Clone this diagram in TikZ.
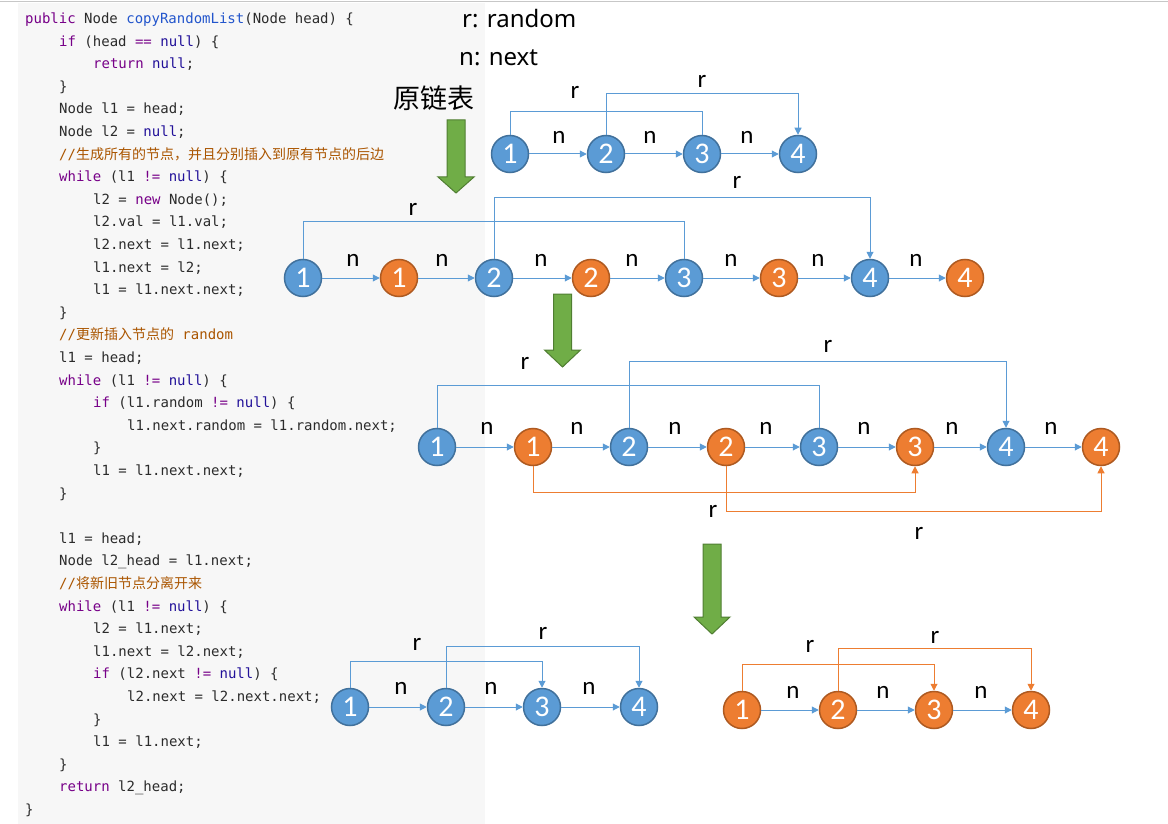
\documentclass[tikz,border=0pt]{standalone}
\usepackage{fontspec}
\usepackage{tikz}
\usetikzlibrary{arrows.meta}
\setmonofont{DejaVu Sans Mono}
\newfontfamily\cjk{Noto Sans CJK SC}
\newfontfamily\lbl{Carlito}
\newfontfamily\legendfont{Noto Sans}

\definecolor{codebg}{HTML}{F7F7F7}
\definecolor{kwcol}{HTML}{770088}
\definecolor{atomcol}{HTML}{221199}
\definecolor{defcol}{HTML}{2255CC}
\definecolor{cmcol}{HTML}{AA5500}
\definecolor{txtcol}{HTML}{2B2B2B}
\definecolor{nodeblue}{HTML}{5B9BD5}
\definecolor{nodeblueb}{HTML}{41719C}
\definecolor{nodeorange}{HTML}{ED7D31}
\definecolor{nodeorangeb}{HTML}{AE5A21}
\definecolor{arrowgreen}{HTML}{70AD47}
\definecolor{arrowgreenb}{HTML}{507E32}

\newcommand{\kw}[1]{\textcolor{kwcol}{#1}}
\newcommand{\nul}{\textcolor{atomcol}{null}}
\newcommand{\cmt}[1]{\textcolor{cmcol}{#1}}
% one line of the listing: number, indent level, text
\newcommand{\codeline}[3]{\node[code] (code#1) at ({25+34*#2},{23.5+22.6*#1}) {#3};}
% fat green arrow: x, top, head base, tip
\newcommand{\greenarrow}[4]{\filldraw[bigarrow] ({#1-9},#2) -- ({#1+9},#2) -- ({#1+9},#3) -- ({#1+18},#3) -- (#1,#4) -- ({#1-18},#3) -- ({#1-9},#3) -- cycle;}

\tikzset{
  code/.style={anchor=base west, inner sep=0pt, text=txtcol, font=\ttfamily\fontsize{14}{16}\selectfont},
  bnode/.style={circle, fill=nodeblue, draw=nodeblueb, line width=1.5pt, minimum size=37pt, inner sep=0pt, text=white, font=\lbl\fontsize{30}{30}\selectfont},
  onode/.style={bnode, fill=nodeorange, draw=nodeorangeb},
  nxt/.style={-{Triangle[length=7pt,width=7pt]}, draw=nodeblue, line width=1pt},
  rnd/.style={draw=nodeblue, line width=1pt},
  ornd/.style={draw=nodeorange, line width=1pt, -{Triangle[length=7pt,width=7pt]}},
  lab/.style={inner sep=0pt, font=\lbl\fontsize{25}{25}\selectfont},
  legend/.style={inner sep=0pt, anchor=base west, font=\legendfont\fontsize{24}{24}\selectfont},
  bigarrow/.style={fill=arrowgreen, draw=arrowgreenb, line width=1pt},
  topline/.style={draw=black!22, line width=1.2pt}
}

\begin{document}
\begin{tikzpicture}[x=1pt,y=-1pt]
\useasboundingbox (0,0) rectangle (1168,824);
\fill[codebg] (18,3) rectangle (485,824);
\draw[topline] (0,1.5) -- (1168,1.5);

% listing
\codeline{0}{0}{\kw{public} Node \textcolor{defcol}{copyRandomList}(Node head) \{}
\codeline{1}{1}{\kw{if} (head \kw{==} \nul) \{}
\codeline{2}{2}{\kw{return} \nul;}
\codeline{3}{1}{\}}
\codeline{4}{1}{Node l1 = head;}
\codeline{5}{1}{Node l2 = \nul;}
\codeline{6}{1}{\cmt{//{\cjk 生成所有的节点，并且分别插入到原有节点的后边}}}
\codeline{7}{1}{\kw{while} (l1 \kw{!=} \nul) \{}
\codeline{8}{2}{l2 = \kw{new} Node();}
\codeline{9}{2}{l2.val = l1.val;}
\codeline{10}{2}{l2.next = l1.next;}
\codeline{11}{2}{l1.next = l2;}
\codeline{12}{2}{l1 = l1.next.next;}
\codeline{13}{1}{\}}
\codeline{14}{1}{\cmt{//{\cjk 更新插入节点的} random}}
\codeline{15}{1}{l1 = head;}
\codeline{16}{1}{\kw{while} (l1 \kw{!=} \nul) \{}
\codeline{17}{2}{\kw{if} (l1.random \kw{!=} \nul) \{}
\codeline{18}{3}{l1.next.random = l1.random.next;}
\codeline{19}{2}{\}}
\codeline{20}{2}{l1 = l1.next.next;}
\codeline{21}{1}{\}}
\codeline{23}{1}{l1 = head;}
\codeline{24}{1}{Node l2\_head = l1.next;}
\codeline{25}{1}{\cmt{//{\cjk 将新旧节点分离开来}}}
\codeline{26}{1}{\kw{while} (l1 \kw{!=} \nul) \{}
\codeline{27}{2}{l2 = l1.next;}
\codeline{28}{2}{l1.next = l2.next;}
\codeline{29}{2}{\kw{if} (l2.next \kw{!=} \nul) \{}
\codeline{30}{3}{l2.next = l2.next.next;}
\codeline{31}{2}{\}}
\codeline{32}{2}{l1 = l1.next;}
\codeline{33}{1}{\}}
\codeline{34}{1}{\kw{return} l2\_head;}
\codeline{35}{0}{\}}

% legend and title
\node[legend] (legr) at (462,28) {r: random};
\node[legend] (legn) at (459,66) {n: next};
\node[inner sep=0pt, font=\cjk\fontsize{27}{27}\selectfont] (title) at (434,98) {原链表};

% stage arrows
\greenarrow{456}{120}{177}{193}
\greenarrow{562.5}{294}{350}{367}
\greenarrow{712}{544}{617}{634}

% original list
\node[bnode] (a1) at (510,154) {1};
\node[bnode] (a2) at (606,154) {2};
\node[bnode] (a3) at (702,154) {3};
\node[bnode] (a4) at (798,154) {4};
\draw[nxt] (a1) -- (a2);
\draw[nxt] (a2) -- (a3);
\draw[nxt] (a3) -- (a4);
\draw[rnd] (a1.north) -- (a1.north |- 0,112) -| (a3.north);
\draw[rnd, -{Triangle[length=7pt,width=7pt]}] (a2.north) -- (a2.north |- 0,94) -| (a4.north);
\node[lab] (ra1) at (575,92) {r};
\node[lab] (ra2) at (702,81) {r};
\node[lab] (na1) at (559,137) {n};
\node[lab] (na2) at (650,137) {n};
\node[lab] (na3) at (747,137) {n};

% copies inserted
\node[bnode] (b1) at (303,278) {1};
\node[onode] (b2) at (399,278) {1};
\node[bnode] (b3) at (494,278) {2};
\node[onode] (b4) at (591,278) {2};
\node[bnode] (b5) at (684,278) {3};
\node[onode] (b6) at (779,278) {3};
\node[bnode] (b7) at (870,278) {4};
\node[onode] (b8) at (965,278) {4};
\draw[nxt] (b1) -- (b2);
\draw[nxt] (b2) -- (b3);
\draw[nxt] (b3) -- (b4);
\draw[nxt] (b4) -- (b5);
\draw[nxt] (b5) -- (b6);
\draw[nxt] (b6) -- (b7);
\draw[nxt] (b7) -- (b8);
\draw[rnd] (b1.north) -- (b1.north |- 0,221) -| (b5.north);
\draw[rnd, -{Triangle[length=7pt,width=7pt]}] (b3.north) -- (b3.north |- 0,198) -| (b7.north);
\node[lab] (rb1) at (413,209) {r};
\node[lab] (rb2) at (737,182) {r};
\node[lab] (nb1) at (353,260) {n};
\node[lab] (nb2) at (442,260) {n};
\node[lab] (nb3) at (541,260) {n};
\node[lab] (nb4) at (632,260) {n};
\node[lab] (nb5) at (731,260) {n};
\node[lab] (nb6) at (818,260) {n};
\node[lab] (nb7) at (916,260) {n};

% random of copies set
\node[bnode] (c1) at (437,447) {1};
\node[onode] (c2) at (533,447) {1};
\node[bnode] (c3) at (629,447) {2};
\node[onode] (c4) at (726,447) {2};
\node[bnode] (c5) at (819,447) {3};
\node[onode] (c6) at (915,447) {3};
\node[bnode] (c7) at (1006,447) {4};
\node[onode] (c8) at (1101,447) {4};
\draw[nxt] (c1) -- (c2);
\draw[nxt] (c2) -- (c3);
\draw[nxt] (c3) -- (c4);
\draw[nxt] (c4) -- (c5);
\draw[nxt] (c5) -- (c6);
\draw[nxt] (c6) -- (c7);
\draw[nxt] (c7) -- (c8);
\draw[rnd] (c1.north) -- (c1.north |- 0,385) -| (c5.north);
\draw[rnd, -{Triangle[length=7pt,width=7pt]}] (c3.north) -- (c3.north |- 0,361) -| (c7.north);
\draw[ornd] (c2.south) -- (c2.south |- 0,492) -| (c6.south);
\draw[ornd] (c4.south) -- (c4.south |- 0,511) -| (c8.south);
\node[lab] (rc1) at (525,363) {r};
\node[lab] (rc2) at (828,346) {r};
\node[lab] (rc3) at (713,511) {r};
\node[lab] (rc4) at (919,533) {r};
\node[lab] (nc1) at (487,428) {n};
\node[lab] (nc2) at (577,428) {n};
\node[lab] (nc3) at (675,428) {n};
\node[lab] (nc4) at (766,428) {n};
\node[lab] (nc5) at (864,428) {n};
\node[lab] (nc6) at (952,428) {n};
\node[lab] (nc7) at (1051,428) {n};

% split: old list
\node[bnode] (d1) at (350,707) {1};
\node[bnode] (d2) at (446,707) {2};
\node[bnode] (d3) at (542,707) {3};
\node[bnode] (d4) at (639,707) {4};
\draw[nxt] (d1) -- (d2);
\draw[nxt] (d2) -- (d3);
\draw[nxt] (d3) -- (d4);
\draw[rnd, -{Triangle[length=7pt,width=7pt]}] (d1.north) -- (d1.north |- 0,661) -| (d3.north);
\draw[rnd, -{Triangle[length=7pt,width=7pt]}] (d2.north) -- (d2.north |- 0,646) -| (d4.north);
\node[lab] (rd1) at (417,644) {r};
\node[lab] (rd2) at (543,633) {r};
\node[lab] (nd1) at (401,688) {n};
\node[lab] (nd2) at (491,688) {n};
\node[lab] (nd3) at (589,688) {n};

% split: new list
\node[onode] (e1) at (742,710) {1};
\node[onode] (e2) at (838,710) {2};
\node[onode] (e3) at (934,710) {3};
\node[onode] (e4) at (1031,710) {4};
\draw[nxt] (e1) -- (e2);
\draw[nxt] (e2) -- (e3);
\draw[nxt] (e3) -- (e4);
\draw[ornd] (e1.north) -- (e1.north |- 0,664) -| (e3.north);
\draw[ornd] (e2.north) -- (e2.north |- 0,648) -| (e4.north);
\node[lab] (re1) at (810,646) {r};
\node[lab] (re2) at (935,637) {r};
\node[lab] (ne1) at (793,692) {n};
\node[lab] (ne2) at (883,692) {n};
\node[lab] (ne3) at (981,692) {n};
\end{tikzpicture}
\end{document}
